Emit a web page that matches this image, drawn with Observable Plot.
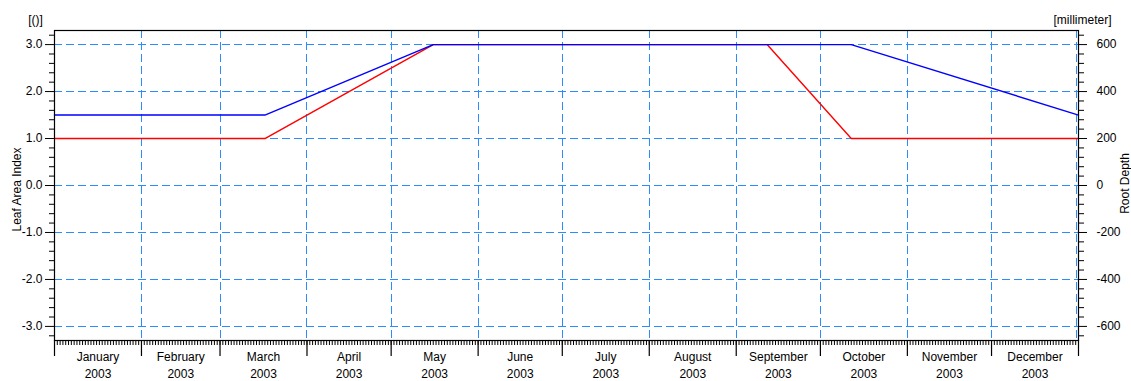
<!DOCTYPE html>
<html>
<head>
<meta charset="utf-8">
<script src="https://cdn.jsdelivr.net/npm/d3@7"></script>
<script src="https://cdn.jsdelivr.net/npm/@observablehq/plot@0.6"></script>
<style>
  html, body { margin: 0; padding: 0; background: #fff; }
  #chart svg { display: block; font-family: "Liberation Sans", Arial, sans-serif; }
</style>
</head>
<body>
<div id="chart"></div>
<script>
// Leaf area index (left axis, dimensionless)
const laiDates = ["2003-01-01", "2003-03-17", "2003-05-16", "2003-09-12", "2003-10-12", "2004-01-01"];
const laiValues = [1.0, 1.0, 3.0, 3.0, 1.0, 1.0];

// Root depth (right axis, millimeter)
const rootDates = ["2003-01-01", "2003-03-17", "2003-05-16", "2003-10-12", "2004-01-01"];
const rootValues = [300, 300, 600, 600, 300];

const monthNames = ["January", "February", "March", "April", "May", "June",
  "July", "August", "September", "October", "November", "December"];
const yearLabel = "2003";
const yTicks = [-3, -2, -1, 0, 1, 2, 3];
const mmPerUnit = 200; // right axis: 1 LAI unit = 200 mm

const lai = laiDates.map((d, i) => ({date: new Date(d), value: laiValues[i]}));
const root = rootDates.map((d, i) => ({date: new Date(d), value: rootValues[i]}));

const start = new Date("2003-01-01"), end = new Date("2004-01-01");
const monthStarts = d3.utcMonth.range(start, d3.utcDay.offset(end, 1));
const days = d3.utcDay.range(start, d3.utcDay.offset(end, 1));
const monthLabels = monthNames.map((m, i) => ({
  date: new Date((+monthStarts[i] + +monthStarts[i + 1]) / 2),
  text: m + "\n" + yearLabel
}));
const minorY = d3.range(-16, 17).map(k => k / 5).filter(v => Math.abs(v - Math.round(v)) > 1e-9);

const grid = {stroke: "#2b8cff", strokeWidth: 1, strokeDasharray: "8,4", shapeRendering: "crispEdges"};

const chart = Plot.plot({
  width: 1131,
  height: 381,
  marginLeft: 54,
  marginRight: 53,
  marginTop: 30,
  marginBottom: 41,
  style: {fontSize: "12px", color: "#000", background: "#fff"},
  x: {type: "utc", domain: [start, end]},
  y: {domain: [-3.3, 3.3]},
  marks: [
    // dashed grid at the major ticks and month boundaries
    Plot.ruleY(yTicks, grid),
    Plot.ruleX(monthStarts.slice(1, -1), grid),
    Plot.ruleX([end], {...grid, dx: -2}),
    // left axis
    Plot.axisY(minorY, {anchor: "left", tickSize: 5, text: null, stroke: "#000", label: null}),
    Plot.axisY(yTicks, {anchor: "left", tickSize: 9, tickPadding: 3, tickFormat: d => d.toFixed(1), fontSize: 12, stroke: "#000", fill: "#000", label: null}),
    // right axis in millimeter
    Plot.axisY(minorY, {anchor: "right", tickSize: 5, text: null, stroke: "#000", label: null}),
    Plot.axisY(yTicks, {anchor: "right", tickSize: 8, tickPadding: 10, tickFormat: d => String(Math.round(d * mmPerUnit)), fontSize: 12, stroke: "#000", fill: "#000", label: null}),
    // time axis: daily minor ticks, monthly major ticks, centred month labels
    Plot.axisX(days, {anchor: "bottom", tickSize: 5, text: null, stroke: "#000", label: null}),
    Plot.axisX(monthStarts, {anchor: "bottom", tickSize: 16, text: null, stroke: "#000", strokeWidth: 1.2, label: null}),
    Plot.text(monthLabels, {x: "date", text: "text", frameAnchor: "bottom", lineAnchor: "top", dy: 9, lineHeight: 1.4, fontSize: 12, fill: "#000"}),
    // series
    Plot.line(lai, {x: "date", y: "value", stroke: "#ff0000", strokeWidth: 1.4}),
    Plot.line(root, {x: "date", y: d => d.value / mmPerUnit, stroke: "#0000ff", strokeWidth: 1.4}),
    Plot.frame({stroke: "#000", strokeWidth: 1.2}),
    // units and axis titles
    Plot.text(["[()]"], {frameAnchor: "top-left", dx: -19, dy: -15, textAnchor: "middle", fontSize: 12, fill: "#000"}),
    Plot.text(["[millimeter]"], {frameAnchor: "top-right", dx: 4, dy: -15, textAnchor: "middle", fontSize: 12, fill: "#000"}),
    Plot.text(["Leaf Area Index"], {frameAnchor: "left", dx: -37, dy: 4, rotate: -90, textAnchor: "middle", fontSize: 12, fill: "#000"}),
    Plot.text(["Root Depth"], {frameAnchor: "right", dx: 47, dy: -2, rotate: -90, textAnchor: "middle", fontSize: 12, fill: "#000"})
  ]
});
document.getElementById("chart").append(chart);
</script>
</body>
</html>
